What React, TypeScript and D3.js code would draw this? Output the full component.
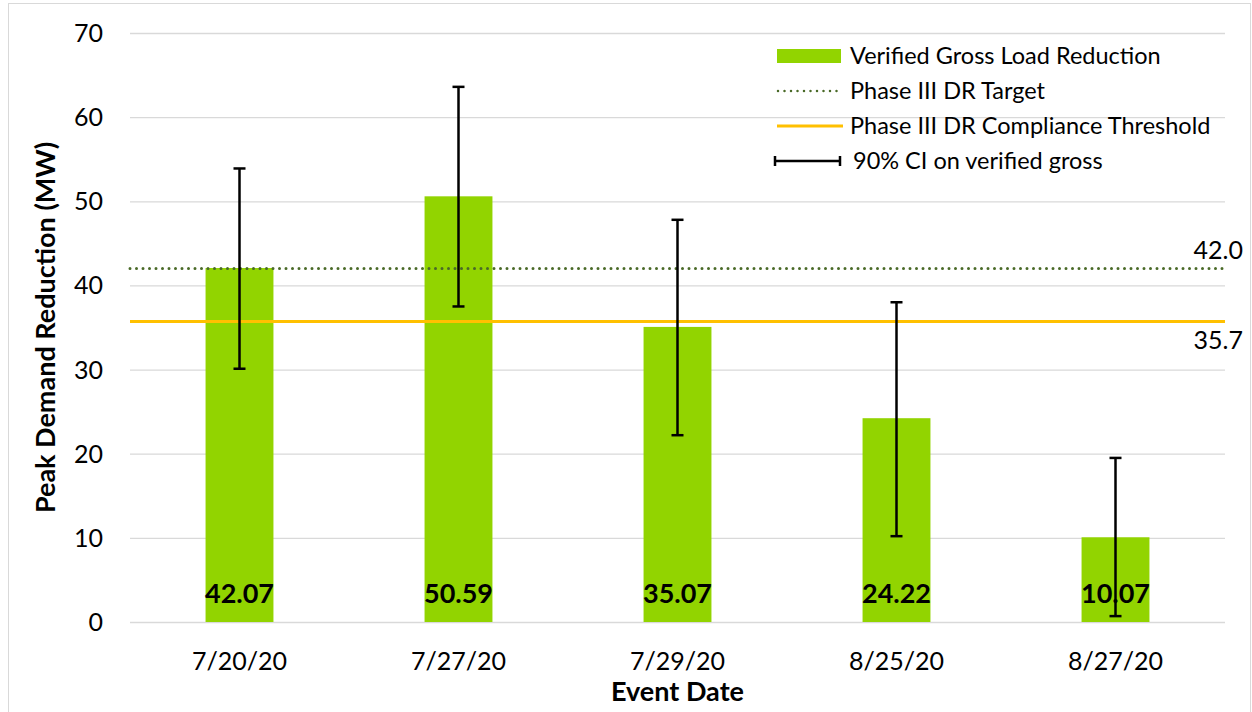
import React, { useEffect, useRef } from 'react';
import * as d3 from 'd3';

const eventDates = ['7/20/20', '7/27/20', '7/29/20', '8/25/20', '8/27/20'];
const grossReduction = [42.07, 50.59, 35.07, 24.22, 10.07];
const ciLow = [30.1, 37.5, 22.2, 10.2, 0.7];
const ciHigh = [53.9, 63.6, 47.8, 38.0, 19.5];
const yTicks = [0, 10, 20, 30, 40, 50, 60, 70];
const drTarget = 42.0;
const complianceThreshold = 35.7;

const FONT = 'Lato, "Open Sans", sans-serif';

const App = () => {
  const svgRef = useRef(null);

  useEffect(() => {
    const width = 1252;
    const height = 712;
    const margin = { top: 33, right: 27, bottom: 90, left: 130 };

    d3.select(svgRef.current).selectAll('*').remove();

    const svg = d3.select(svgRef.current)
      .attr('width', width)
      .attr('height', height)
      .style('font-family', FONT);

    // outer frame
    svg.append('rect')
      .attr('x', 8.5)
      .attr('y', 3.5)
      .attr('width', width - 10)
      .attr('height', height)
      .attr('fill', 'white')
      .attr('stroke', '#d9d9d9');

    const xScale = d3.scaleBand()
      .domain(eventDates)
      .range([margin.left, width - margin.right])
      .padding(0);

    const yScale = d3.scaleLinear()
      .domain([0, 70])
      .range([height - margin.bottom, margin.top]);

    // gridlines
    svg.append('g')
      .selectAll('line')
      .data(yTicks)
      .join('line')
      .attr('x1', margin.left)
      .attr('x2', width - margin.right)
      .attr('y1', d => yScale(d) + 0.5)
      .attr('y2', d => yScale(d) + 0.5)
      .attr('stroke', '#d9d9d9')
      .attr('stroke-width', 1.3);

    // y tick labels
    svg.append('g')
      .selectAll('text')
      .data(yTicks)
      .join('text')
      .attr('x', 103)
      .attr('y', d => yScale(d) + 9)
      .attr('text-anchor', 'end')
      .style('font-size', '25px')
      .attr('fill', '#000')
      .text(d => d);

    // bars
    const barWidth = xScale.bandwidth() * 0.31;
    grossReduction.forEach((v, i) => {
      const cx = xScale(eventDates[i])! + xScale.bandwidth() / 2;
      svg.append('rect')
        .attr('x', cx - barWidth / 2)
        .attr('y', yScale(v))
        .attr('width', barWidth)
        .attr('height', yScale(0) - yScale(v))
        .attr('fill', '#92d400');
    });

    // target and threshold lines
    svg.append('line')
      .attr('x1', margin.left)
      .attr('x2', width - margin.right)
      .attr('y1', yScale(drTarget))
      .attr('y2', yScale(drTarget))
      .attr('stroke', '#4a6a28')
      .attr('stroke-width', 3)
      .attr('stroke-linecap', 'round')
      .attr('stroke-dasharray', '0,6.5');

    svg.append('line')
      .attr('x1', margin.left)
      .attr('x2', width - margin.right)
      .attr('y1', yScale(complianceThreshold))
      .attr('y2', yScale(complianceThreshold))
      .attr('stroke', '#ffc000')
      .attr('stroke-width', 3);

    svg.append('text')
      .attr('x', 1243)
      .attr('y', yScale(drTarget) - 10)
      .attr('text-anchor', 'end')
      .style('font-size', '25px')
      .text(drTarget.toFixed(1));

    svg.append('text')
      .attr('x', 1243)
      .attr('y', yScale(complianceThreshold) + 27)
      .attr('text-anchor', 'end')
      .style('font-size', '25px')
      .text(complianceThreshold.toFixed(1));

    // error bars
    grossReduction.forEach((_, i) => {
      const cx = xScale(eventDates[i])! + xScale.bandwidth() / 2;
      const g = svg.append('g').attr('stroke', '#000').attr('stroke-width', 2.5);
      g.append('line')
        .attr('x1', cx).attr('x2', cx)
        .attr('y1', yScale(ciHigh[i])).attr('y2', yScale(ciLow[i]));
      [ciHigh[i], ciLow[i]].forEach(c => {
        g.append('line')
          .attr('x1', cx - 6).attr('x2', cx + 6)
          .attr('y1', yScale(c)).attr('y2', yScale(c));
      });
    });

    // value labels
    grossReduction.forEach((v, i) => {
      const cx = xScale(eventDates[i])! + xScale.bandwidth() / 2;
      svg.append('text')
        .attr('x', cx)
        .attr('y', 603)
        .attr('text-anchor', 'middle')
        .style('font-size', '27px')
        .style('font-weight', 'bold')
        .text(v.toFixed(2));
    });

    // x labels
    svg.append('g')
      .selectAll('text')
      .data(eventDates)
      .join('text')
      .attr('x', d => xScale(d)! + xScale.bandwidth() / 2)
      .attr('y', 670)
      .attr('text-anchor', 'middle')
      .style('font-size', '25px')
      .text(d => d);

    // axis titles
    svg.append('text')
      .attr('x', (margin.left + width - margin.right) / 2)
      .attr('y', 701)
      .attr('text-anchor', 'middle')
      .style('font-size', '27px')
      .style('font-weight', 'bold')
      .text('Event Date');

    svg.append('text')
      .attr('transform', `translate(55, ${(yScale(0) + yScale(70)) / 2}) rotate(-90)`)
      .attr('text-anchor', 'middle')
      .style('font-size', '27px')
      .style('font-weight', 'bold')
      .text('Peak Demand Reduction (MW)');

    // legend
    const legend = svg.append('g').attr('transform', 'translate(777, 56)');
    const rowH = 35;
    legend.append('rect')
      .attr('x', 0).attr('y', -7)
      .attr('width', 64).attr('height', 14)
      .attr('fill', '#92d400');
    legend.append('line')
      .attr('x1', 1).attr('x2', 62)
      .attr('y1', rowH).attr('y2', rowH)
      .attr('stroke', '#4a6a28')
      .attr('stroke-width', 2.5)
      .attr('stroke-linecap', 'round')
      .attr('stroke-dasharray', '0,6.5');
    legend.append('line')
      .attr('x1', 0).attr('x2', 66)
      .attr('y1', rowH * 2).attr('y2', rowH * 2)
      .attr('stroke', '#ffc000')
      .attr('stroke-width', 3);
    const eb = legend.append('g').attr('stroke', '#000').attr('stroke-width', 2.5);
    eb.append('line').attr('x1', -3).attr('x2', 64).attr('y1', rowH * 3).attr('y2', rowH * 3);
    eb.append('line').attr('x1', -2).attr('x2', -2).attr('y1', rowH * 3 - 5).attr('y2', rowH * 3 + 5);
    eb.append('line').attr('x1', 63).attr('x2', 63).attr('y1', rowH * 3 - 5).attr('y2', rowH * 3 + 5);

    const legendLabels = [
      'Verified Gross Load Reduction',
      'Phase III DR Target',
      'Phase III DR Compliance Threshold',
      '90% CI on verified gross'
    ];
    legend.selectAll('text.lbl')
      .data(legendLabels)
      .join('text')
      .attr('class', 'lbl')
      .attr('x', (_, i) => (i === 3 ? 76 : 73))
      .attr('y', (_, i) => i * rowH + 8)
      .style('font-size', '23.5px')
      .text(d => d);
  }, []);

  return (
    <svg ref={svgRef} style={{ position: 'absolute', left: 0, top: 0, background: 'white' }}></svg>
  );
};

export default App;
